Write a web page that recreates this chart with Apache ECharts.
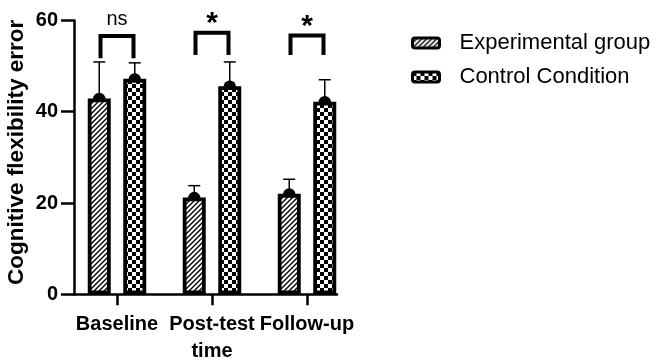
<!DOCTYPE html>
<html>
<head>
<meta charset="utf-8">
<script src="https://cdn.jsdelivr.net/npm/echarts@6/dist/echarts.min.js"></script>
<style>html,body{margin:0;padding:0;background:#fff;}#c{width:656px;height:362px;}</style>
</head>
<body>
<div id="c"></div>
<script>
// ---- data ----
const categories = ['Baseline', 'Post-test', 'Follow-up'];
const seriesNames = ['Experimental group', 'Control Condition'];
const expMean = [42.9, 21.2, 22.0];
const expSD = [8.0, 2.6, 3.2];
const ctrlMean = [47.2, 45.6, 42.2];
const ctrlSD = [3.5, 5.3, 4.8];
const sigLabels = ['ns', '*', '*'];
const bracketTop = [56.6, 57.3, 56.7];
const bracketBottom = [51.7, 52.4, 52.4];
const yTicks = [0, 20, 40, 60];

// ---- styles ----
const FONT = 'Liberation Sans, Arial, sans-serif';
const BAR_W = 23, BAR_GAP = 12.5, BORDER = 3.8;
const OFFSET = (BAR_W + BAR_GAP) / 2;

function hatch() {
  const c = document.createElement('canvas'); c.width = 5; c.height = 5;
  const g = c.getContext('2d');
  g.fillStyle = '#fff'; g.fillRect(0, 0, 5, 5);
  g.strokeStyle = '#000'; g.lineWidth = 1.4;
  g.beginPath();
  g.moveTo(-1, 6); g.lineTo(6, -1);
  g.moveTo(-1, 1); g.lineTo(1, -1);
  g.moveTo(4, 6); g.lineTo(6, 4);
  g.stroke();
  return c;
}
function checker() {
  const c = document.createElement('canvas'); c.width = 8; c.height = 8;
  const g = c.getContext('2d');
  g.fillStyle = '#fff'; g.fillRect(0, 0, 8, 8);
  g.fillStyle = '#000'; g.fillRect(0, 0, 4, 4); g.fillRect(4, 4, 4, 4);
  return c;
}
const hatchFill = { image: hatch(), repeat: 'repeat' };
const checkFill = { image: checker(), repeat: 'repeat' };

function errRender(means, sds, off) {
  return function (params, api) {
    const i = api.value(0);
    const p0 = api.coord([i, means[i]]);
    const p1 = api.coord([i, means[i] + sds[i]]);
    const x = p0[0] + off;
    return {
      type: 'group',
      children: [
        { type: 'line', shape: { x1: x, y1: p0[1], x2: x, y2: p1[1] }, style: { stroke: '#000', lineWidth: 1.5 } },
        { type: 'line', shape: { x1: x - 6, y1: p1[1], x2: x + 6, y2: p1[1] }, style: { stroke: '#000', lineWidth: 1.5 } }
      ]
    };
  };
}
function dotRender(means, off) {
  return function (params, api) {
    const i = api.value(0);
    const p = api.coord([i, means[i]]);
    return { type: 'circle', shape: { cx: p[0] + off, cy: p[1] + 0.5, r: 6.2 }, style: { fill: '#000' } };
  };
}
function bracketRender(params, api) {
  const i = api.value(0);
  const t = api.coord([i, bracketTop[i]]);
  const b = api.coord([i, bracketBottom[i]]);
  const hw = 16.5;
  const isStar = sigLabels[i] === '*';
  return {
    type: 'group',
    children: [
      { type: 'polyline', shape: { points: [[t[0] - hw, b[1]], [t[0] - hw, t[1]], [t[0] + hw, t[1]], [t[0] + hw, b[1]]] },
        style: { stroke: '#000', lineWidth: 4, fill: null, lineJoin: 'miter', lineCap: 'butt' } },
      { type: 'text', x: t[0], y: isStar ? t[1] - 9 : t[1] - 16,
        style: { text: sigLabels[i], fill: '#000', font: (isStar ? 'bold 30px ' : '20px ') + FONT, align: 'center', verticalAlign: 'middle' } }
    ]
  };
}

const chart = echarts.init(document.getElementById('c'), null, { renderer: 'canvas' });
chart.setOption({
  animation: false,
  backgroundColor: '#fff',
  textStyle: { fontFamily: FONT },
  grid: [
    { left: 69.5, width: 285, top: 20.4, height: 273.9, containLabel: false, outerBoundsMode: 'none' },
    { left: 74, width: 263, top: 20.4, height: 273.9, containLabel: false, outerBoundsMode: 'none' }
  ],
  legend: {
    data: seriesNames, orient: 'vertical', left: 406, top: 27,
    itemWidth: 27, itemHeight: 10, itemGap: 12,
    itemStyle: { borderWidth: 3, borderColor: '#000' },
    textStyle: { fontSize: 22, color: '#000', fontFamily: FONT, padding: [0, 0, 0, 15] }
  },
  xAxis: [
    { type: 'category', data: categories, gridIndex: 0,
      axisLine: { show: false },
      axisTick: { show: true, alignWithLabel: true, length: 11, lineStyle: { color: '#000', width: 2.5 } },
      axisLabel: { interval: 0, margin: 20, color: '#000', fontWeight: 'bold', fontSize: 20, fontFamily: FONT },
      name: 'time', nameLocation: 'middle', nameGap: 47,
      nameTextStyle: { color: '#000', fontWeight: 'bold', fontSize: 20, fontFamily: FONT } },
    { type: 'value', gridIndex: 1, min: 0, max: 1,
      axisLine: { show: true, onZero: false, lineStyle: { color: '#000', width: 2.5 } },
      axisTick: { show: false }, axisLabel: { show: false }, splitLine: { show: false } }
  ],
  yAxis: [
    { type: 'value', gridIndex: 0, min: 0, max: 60, interval: 20, show: false },
    { type: 'value', gridIndex: 1, min: 0, max: 60, interval: 20,
      axisLine: { show: true, lineStyle: { color: '#000', width: 2.5 } },
      axisTick: { show: true, length: 13, lineStyle: { color: '#000', width: 2.5 } },
      axisLabel: { color: '#000', fontWeight: 'bold', fontSize: 20, fontFamily: FONT, margin: 16,
        formatter: function (v) { return yTicks.indexOf(v) >= 0 ? String(v) : ''; } },
      splitLine: { show: false },
      name: 'Cognitive flexibility error', nameLocation: 'middle', nameRotate: 90, nameGap: 46,
      nameTextStyle: { color: '#000', fontWeight: 'bold', fontSize: 22.5, fontFamily: FONT, padding: [0, 0, 0, 10] } }
  ],
  series: [
    { type: 'custom', name: 'expDot', xAxisIndex: 0, yAxisIndex: 0, z: 1, silent: true,
      renderItem: dotRender(expMean, -OFFSET), data: categories.map((c, i) => [i]) },
    { type: 'custom', name: 'ctrlDot', xAxisIndex: 0, yAxisIndex: 0, z: 1, silent: true,
      renderItem: dotRender(ctrlMean, OFFSET), data: categories.map((c, i) => [i]) },
    { type: 'bar', name: seriesNames[0], xAxisIndex: 0, yAxisIndex: 0, z: 2,
      barWidth: BAR_W, barGap: (BAR_GAP / BAR_W * 100) + '%',
      itemStyle: { color: hatchFill, borderColor: '#000', borderWidth: BORDER },
      data: expMean },
    { type: 'bar', name: seriesNames[1], xAxisIndex: 0, yAxisIndex: 0, z: 2,
      barWidth: BAR_W,
      itemStyle: { color: checkFill, borderColor: '#000', borderWidth: BORDER },
      data: ctrlMean },
    { type: 'custom', name: 'expErr', xAxisIndex: 0, yAxisIndex: 0, z: 3, silent: true,
      renderItem: errRender(expMean, expSD, -OFFSET), data: categories.map((c, i) => [i]) },
    { type: 'custom', name: 'ctrlErr', xAxisIndex: 0, yAxisIndex: 0, z: 3, silent: true,
      renderItem: errRender(ctrlMean, ctrlSD, OFFSET), data: categories.map((c, i) => [i]) },
    { type: 'custom', name: 'sig', xAxisIndex: 0, yAxisIndex: 0, z: 4, silent: true,
      renderItem: bracketRender, data: categories.map((c, i) => [i]) }
  ]
});
</script>
</body>
</html>
